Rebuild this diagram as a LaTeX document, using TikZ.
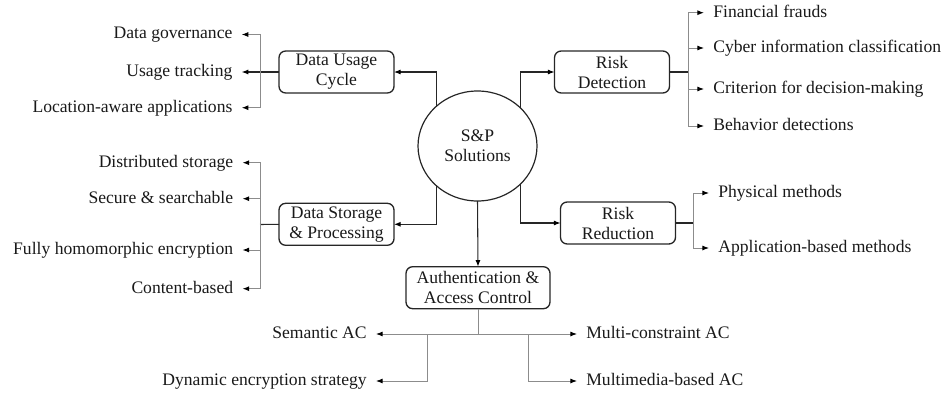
\documentclass[tikz,border=0pt]{standalone}
\usepackage{fontspec}
\setmainfont{Liberation Serif}
\usetikzlibrary{arrows.meta,shapes.geometric}
\begin{document}
\begin{tikzpicture}[x=0.75pt,y=-0.75pt,
  every node/.style={font=\fontsize{13.2}{15}\selectfont, text=black!90},
  box/.style={draw=black!85, line width=1pt, rounded corners=5pt, minimum width=86.25pt, minimum height=31.5pt, align=center, inner sep=1pt, outer sep=0pt},
  hub/.style={draw=black!85, line width=0.9pt, ellipse, minimum width=89.25pt, minimum height=82.5pt, align=center, inner sep=0pt, outer sep=0pt},
  leafl/.style={inner sep=0pt, outer xsep=7pt, outer ysep=0pt, text height=0.66em, text depth=0pt, anchor=east},
  leafr/.style={inner sep=0pt, outer xsep=7pt, outer ysep=0pt, text height=0.66em, text depth=0pt, anchor=west},
  main/.style={draw=black!85, line width=0.8pt, -{Latex[length=5pt,width=3.8pt,color=black]}},
  link/.style={draw=black!85, line width=0.8pt},
  twig/.style={draw=black!45, line width=0.75pt, -{Latex[length=5pt,width=3.8pt,color=black]}},
  twigdark/.style={draw=black!85, line width=0.8pt, -{Latex[length=5pt,width=3.8pt,color=black]}},
  stem/.style={draw=black!45, line width=0.75pt}
]
\useasboundingbox (0,0) rectangle (945,396);

% central hub
\node[hub] (c) at (477.5,146) {S\&P\\Solutions};

% first-level boxes
\node[box] (duc) at (336.5,72) {Data Usage\\Cycle};
\node[box] (dsp) at (336.5,224.3) {Data Storage\\\& Processing};
\node[box] (rd) at (612,72) {Risk\\Detection};
\node[box] (rr) at (618,223) {Risk\\Reduction};
\node[box, minimum width=108pt] (auth) at (478,287.7) {Authentication \&\\Access Control};

\draw[main] (c.136.5) |- (duc);
\draw[main] (c.-136.5) |- (dsp);
\draw[main] (c.42.2) |- (rd);
\draw[main] (c.-42.2) |- (rr);
\draw[main] (c.south) -- (auth.north);

% Data usage cycle leaves
\node[leafl] (g1) at (241.7,34.5) {Data governance};
\node[leafl] (g2) at (241.7,72) {Usage tracking};
\node[leafl] (g3) at (241.7,107.7) {Location-aware applications};
\coordinate (j1) at (260,72);
\draw[link] (duc.west) -- (j1);
\draw[twig] (j1) |- (g1);
\draw[twigdark] (j1) -- (g2);
\draw[twig] (j1) |- (g3);

% Data storage leaves
\node[leafl] (s1) at (242.5,162.7) {Distributed storage};
\node[leafl] (s2) at (242.5,198.7) {Secure \& searchable};
\node[leafl] (s3) at (242.5,250) {Fully homomorphic encryption};
\node[leafl] (s4) at (242.5,288.7) {Content-based};
\coordinate (j2) at (260,224.5);
\draw[link] (dsp.west) -- (j2);
\draw[twig] (j2) |- (s1);
\draw[twig] (j2) |- (s2);
\draw[twig] (j2) |- (s3);
\draw[twig] (j2) |- (s4);

% Risk detection leaves
\node[leafr] (r1) at (704,12.7) {Financial frauds};
\node[leafr] (r2) at (704,48) {Cyber information classification};
\node[leafr] (r3) at (704,89) {Criterion for decision-making};
\node[leafr] (r4) at (704,126) {Behavior detections};
\coordinate (j3) at (688,72);
\draw[link] (rd.east) -- (j3);
\draw[twig] (j3) |- (r1);
\draw[twig] (j3) |- (r2);
\draw[twig] (j3) |- (r3);
\draw[twig] (j3) |- (r4);

% Risk reduction leaves
\node[leafr] (m1) at (709,193) {Physical methods};
\node[leafr] (m2) at (709,248) {Application-based methods};
\coordinate (j4) at (693,223);
\draw[link] (rr.east) -- (j4);
\draw[twig] (j4) |- (m1);
\draw[twig] (j4) |- (m2);

% Authentication leaves
\node[leafl] (a1) at (376,334) {Semantic AC};
\node[leafr] (a2) at (577,334) {Multi-constraint AC};
\node[leafl] (a3) at (376,381) {Dynamic encryption strategy};
\node[leafr] (a4) at (577,381) {Multimedia-based AC};
\coordinate (j5) at (478,334);
\coordinate (j6) at (427,334);
\coordinate (j7) at (528,334);
\draw[stem] (auth.south) -- (j5);
\draw[twig] (j5) -- (a1);
\draw[twig] (j5) -- (a2);
\draw[twig] (j6) |- (a3);
\draw[twig] (j7) |- (a4);
\end{tikzpicture}
\end{document}
